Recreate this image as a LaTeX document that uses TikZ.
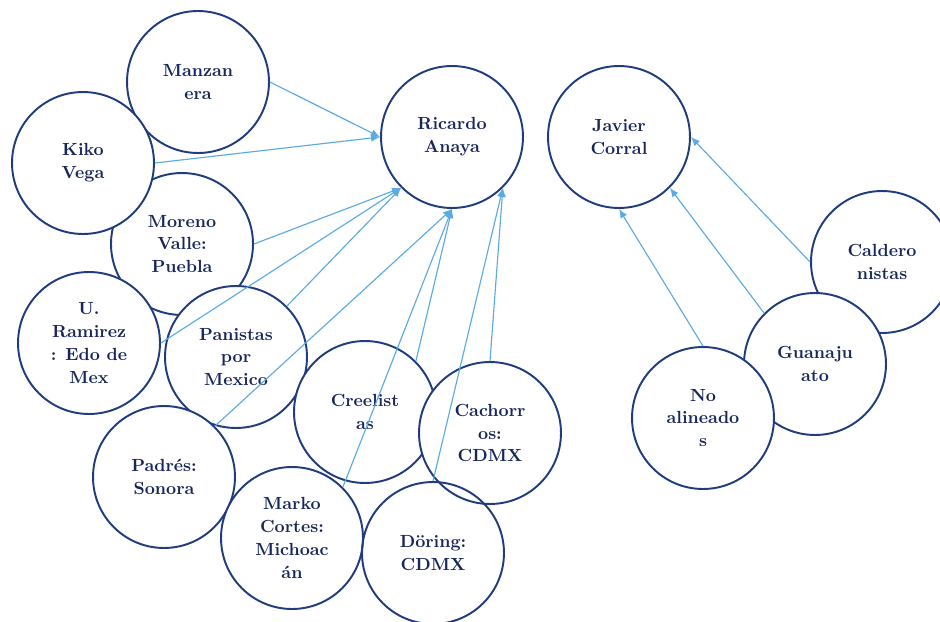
\documentclass[tikz,border=0pt]{standalone}
\usepackage{fontspec}
\usepackage{tikz}
\usetikzlibrary{arrows.meta}
\definecolor{navyline}{RGB}{32,60,124}
\definecolor{navytext}{RGB}{24,38,90}
\definecolor{linkblue}{RGB}{92,170,228}

\begin{document}
\begin{tikzpicture}[x=0.02cm, y=-0.02cm,
    faction/.style={circle, draw=navyline, line width=1.1pt, fill=white,
      minimum size=2.84cm, inner sep=0pt, align=center, text=navytext,
      font=\bfseries\fontsize{10}{13}\selectfont},
    link/.style={draw=linkblue, line width=0.65pt,
      -{Latex[length=1.8mm,width=1.5mm]}}]
    % Fix the frame
    \useasboundingbox (0,0) rectangle (940,622);
    % Draw the circles
    \node[faction] (manz) at (198,82) {Manzan\\era};
    \node[faction] (moreno) at (182,244) {Moreno\\Valle:\\Puebla};
    \node[faction] (kiko) at (83,163) {Kiko\\Vega};
    \node[faction] (ramirez) at (89,343) {U.\\Ramirez\\: Edo de\\Mex};
    \node[faction] (panistas) at (236,357) {Panistas\\por\\Mexico};
    \node[faction] (padres) at (164,477) {Padrés:\\Sonora};
    \node[faction] (creel) at (365,412) {Creelist\\as};
    \node[faction] (cachorros) at (490,433) {Cachorr\\os:\\CDMX};
    \node[faction] (marko) at (292,538) {Marko\\Cortes:\\Michoac\\án};
    \node[faction, fill=none] (doring) at (433,553) {Döring:\\CDMX};
    \node[faction] (anaya) at (452,137) {Ricardo\\Anaya};
    \node[faction] (corral) at (619,137) {Javier\\Corral};
    \node[faction] (caldero) at (882,262) {Caldero\\nistas};
    \node[faction] (guanajuato) at (815,364) {Guanaju\\ato};
    \node[faction] (noalin) at (703,418) {No\\alineado\\s};
    % Draw the arrows to Anaya
    \draw[link] (manz.east) -- (anaya.west);
    \draw[link] (kiko.east) -- (anaya.west);
    \draw[link] (moreno.east) -- (anaya.south west);
    \draw[link] (ramirez.east) -- (anaya.south west);
    \draw[link] (panistas.north east) -- (anaya.south west);
    \draw[link] (padres.north east) -- (anaya.south);
    \draw[link] (marko.north east) -- (anaya.south);
    \draw[link] (creel.north east) -- (anaya.south);
    \draw[link] (cachorros.north) -- (anaya.south east);
    \draw[link] (doring.north) -- (anaya.south east);
    % Draw the arrows to Corral
    \draw[link] (noalin.north) -- (corral.south);
    \draw[link] (guanajuato.north west) -- (corral.south east);
    \draw[link] (caldero.west) -- (corral.east);
  \end{tikzpicture}
\end{document}
